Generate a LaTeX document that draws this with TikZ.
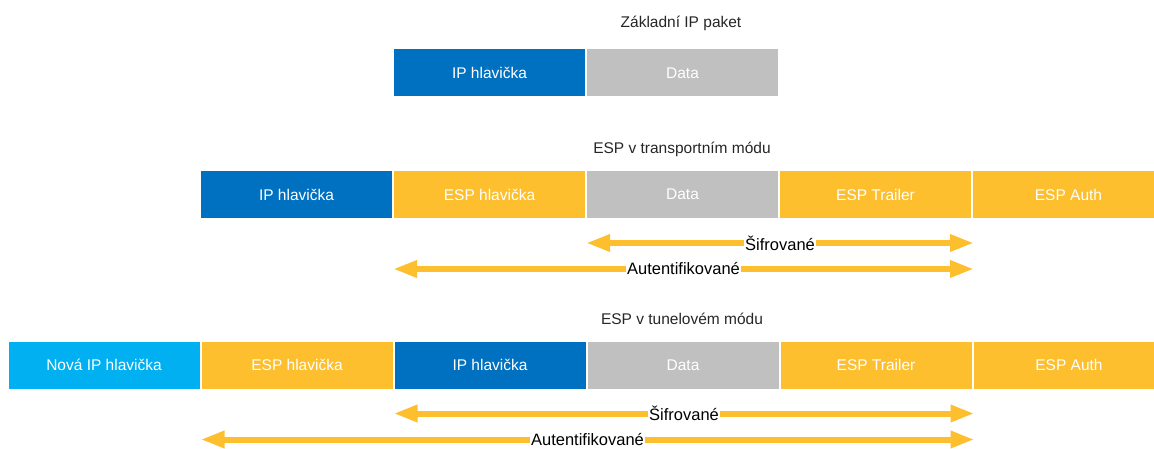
\documentclass[tikz,border=0pt]{standalone}
\usepackage{fontspec}
\setmainfont{Liberation Sans}
\usetikzlibrary{arrows.meta,positioning,calc}

\definecolor{ipblue}{HTML}{0070C0}
\definecolor{newblue}{HTML}{00B0F0}
\definecolor{espyellow}{HTML}{FDBF2D}
\definecolor{datagray}{HTML}{C0C0C0}

\tikzset{
  cell/.style={draw=white, line width=1pt, minimum width=192pt, minimum height=48pt,
               inner sep=0pt, text=white, font=\fontsize{15.5}{18}\selectfont},
  iphdr/.style={cell, fill=ipblue},
  newhdr/.style={cell, fill=newblue},
  espcell/.style={cell, fill=espyellow},
  datacell/.style={cell, fill=datagray},
  rowtitle/.style={text=black!85, font=\fontsize{15.5}{18}\selectfont},
  span/.style={draw=espyellow, line width=6pt,
               {Triangle[length=24pt,width=16pt]}-{Triangle[length=24pt,width=16pt]}},
  spanlbl/.style={fill=white, inner sep=1pt, text=black, font=\fontsize{16.5}{19}\selectfont}
}

\begin{document}
\begin{tikzpicture}[x=1pt, y=-1pt]
  \useasboundingbox (0,0) rectangle (1154,449);
  \clip (0,0) rectangle (1154,449);

  % basic packet
  \node[rowtitle] (t1) at (681,23) {Základní IP paket};
  \node[iphdr] (ip1) at (489.5,73) {IP hlavička};
  \node[datacell, right=0pt of ip1] (data1) {Data};

  % transport mode
  \node[rowtitle] (t2) at (682,149) {ESP v transportním módu};
  \node[iphdr] (ip2) at (296.5,194.5) {IP hlavička};
  \node[espcell, right=0pt of ip2] (esph2) {ESP hlavička};
  \node[datacell, right=0pt of esph2] (data2) {Data};
  \node[espcell, right=0pt of data2] (trl2) {ESP Trailer};
  \node[espcell, right=0pt of trl2] (auth2) {ESP Auth};

  \coordinate (enc2l) at ([yshift=-24pt]data2.south west);
  \coordinate (enc2r) at ([xshift=2pt, yshift=-24pt]trl2.south east);
  \coordinate (aut2l) at ([yshift=-50pt]esph2.south west);
  \coordinate (aut2r) at ([xshift=2pt, yshift=-50pt]trl2.south east);
  \draw[span] (enc2l) -- (enc2r) node[midway, spanlbl] (enc2) {Šifrované};
  \draw[span] (aut2l) -- (aut2r) node[midway, spanlbl] (aut2) {Autentifikované};

  % tunnel mode
  \node[rowtitle] (t3) at (682,319) {ESP v tunelovém módu};
  \node[newhdr] (new3) at (104,365) {Nová IP hlavička};
  \node[espcell, right=0pt of new3] (esph3) {ESP hlavička};
  \node[iphdr, right=0pt of esph3] (ip3) {IP hlavička};
  \node[datacell, right=0pt of ip3] (data3) {Data};
  \node[espcell, right=0pt of data3] (trl3) {ESP Trailer};
  \node[espcell, right=0pt of trl3] (auth3) {ESP Auth};

  \coordinate (enc3l) at ([yshift=-24pt]ip3.south west);
  \coordinate (enc3r) at ([xshift=2pt, yshift=-24pt]trl3.south east);
  \coordinate (aut3l) at ([yshift=-50pt]esph3.south west);
  \coordinate (aut3r) at ([xshift=2pt, yshift=-50pt]trl3.south east);
  \draw[span] (enc3l) -- (enc3r) node[midway, spanlbl] (enc3) {Šifrované};
  \draw[span] (aut3l) -- (aut3r) node[midway, spanlbl] (aut3) {Autentifikované};
\end{tikzpicture}
\end{document}
